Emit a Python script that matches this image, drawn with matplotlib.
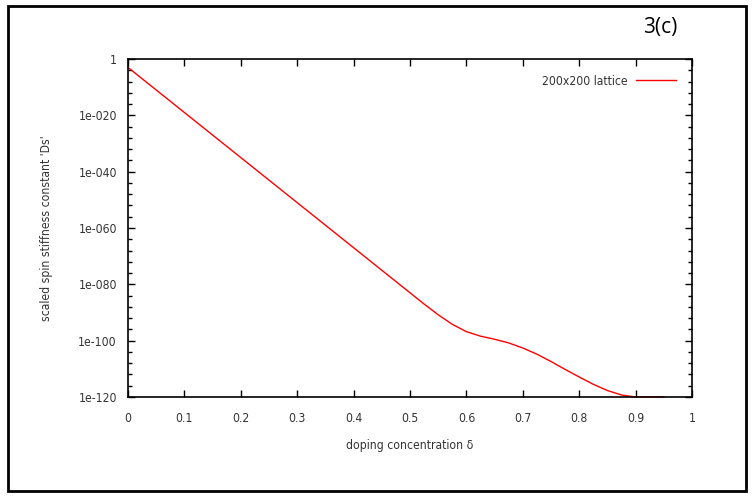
import numpy as np
import matplotlib.pyplot as plt
from matplotlib.ticker import FixedLocator, FixedFormatter
from matplotlib.patches import Rectangle

# doping concentration and log10 of scaled spin stiffness
doping = [0.0, 0.05, 0.1, 0.15, 0.2, 0.25, 0.3, 0.35, 0.4, 0.45, 0.5,
          0.525, 0.55, 0.575, 0.6, 0.625, 0.65, 0.675, 0.7, 0.725, 0.75,
          0.775, 0.8, 0.825, 0.85, 0.875, 0.9, 0.925, 0.95]
log_ds = [-3, -11, -19, -27, -35, -43, -51, -59, -67, -75, -83,
          -87, -90.8, -94.2, -96.8, -98.4, -99.5, -100.8, -102.6, -104.8, -107.4,
          -110.2, -112.9, -115.5, -117.7, -119.3, -120, -120, -120]

xticks = [0, 0.1, 0.2, 0.3, 0.4, 0.5, 0.6, 0.7, 0.8, 0.9, 1]
xtick_labels = ['0', '0.1', '0.2', '0.3', '0.4', '0.5', '0.6', '0.7', '0.8', '0.9', '1']
ytick_exp = [0, -20, -40, -60, -80, -100, -120]
ytick_labels = ['1', '1e-020', '1e-040', '1e-060', '1e-080', '1e-100', '1e-120']

W, H = 752, 498
fig = plt.figure(figsize=(W / 100, H / 100), dpi=100)
plt.rcParams['font.stretch'] = 'condensed'
FS = 8.7

# outer frame of the figure panel
fig.patches.append(Rectangle((8 / W, 7 / H), 738 / W, 485 / H, transform=fig.transFigure,
                             fill=False, edgecolor='black', linewidth=2))
fig.text(660 / W, 1 - 28 / H, '3(c)', fontsize=15, ha='center', va='center',
         family='Open Sans', stretch='normal')

ax = fig.add_axes([128 / W, 1 - 397 / H, 564 / W, 338 / H])
ds = 10.0 ** np.array(log_ds)
ax.plot(doping, ds, color='#ff0000', linewidth=1.0, label='200x200 lattice', clip_on=False)

ax.set_yscale('log')
ax.set_xlim(0, 1)
ax.set_ylim(1e-120, 1)

ax.xaxis.set_major_locator(FixedLocator(xticks))
ax.xaxis.set_major_formatter(FixedFormatter(xtick_labels))
ax.yaxis.set_major_locator(FixedLocator([10.0 ** e for e in ytick_exp]))
ax.yaxis.set_major_formatter(FixedFormatter(ytick_labels))
ax.yaxis.set_minor_locator(FixedLocator([10.0 ** e for e in range(0, -121, -4)]))
ax.yaxis.set_minor_formatter(FixedFormatter([]))
ax.xaxis.set_minor_locator(FixedLocator([]))

ax.tick_params(which='both', direction='in', top=True, right=True, labelsize=FS,
               labelcolor='#333333')
ax.tick_params(axis='x', pad=11)
ax.tick_params(axis='y', pad=8)
ax.tick_params(which='major', length=5, width=1)
ax.tick_params(which='minor', length=3, width=1)
for s in ax.spines.values():
    s.set_linewidth(1.2)

ax.set_xlabel('doping concentration δ', fontsize=FS, color='#333333', labelpad=10)
ax.set_ylabel("scaled spin stiffness constant 'Ds'", fontsize=FS, color='#333333', labelpad=18)

leg = ax.legend(loc='upper right', frameon=False, fontsize=FS, markerfirst=False,
                handlelength=3.3, handletextpad=0.7, borderaxespad=0.9)
for t in leg.get_texts():
    t.set_color('#333333')

fig.savefig('out.png', dpi=100)
